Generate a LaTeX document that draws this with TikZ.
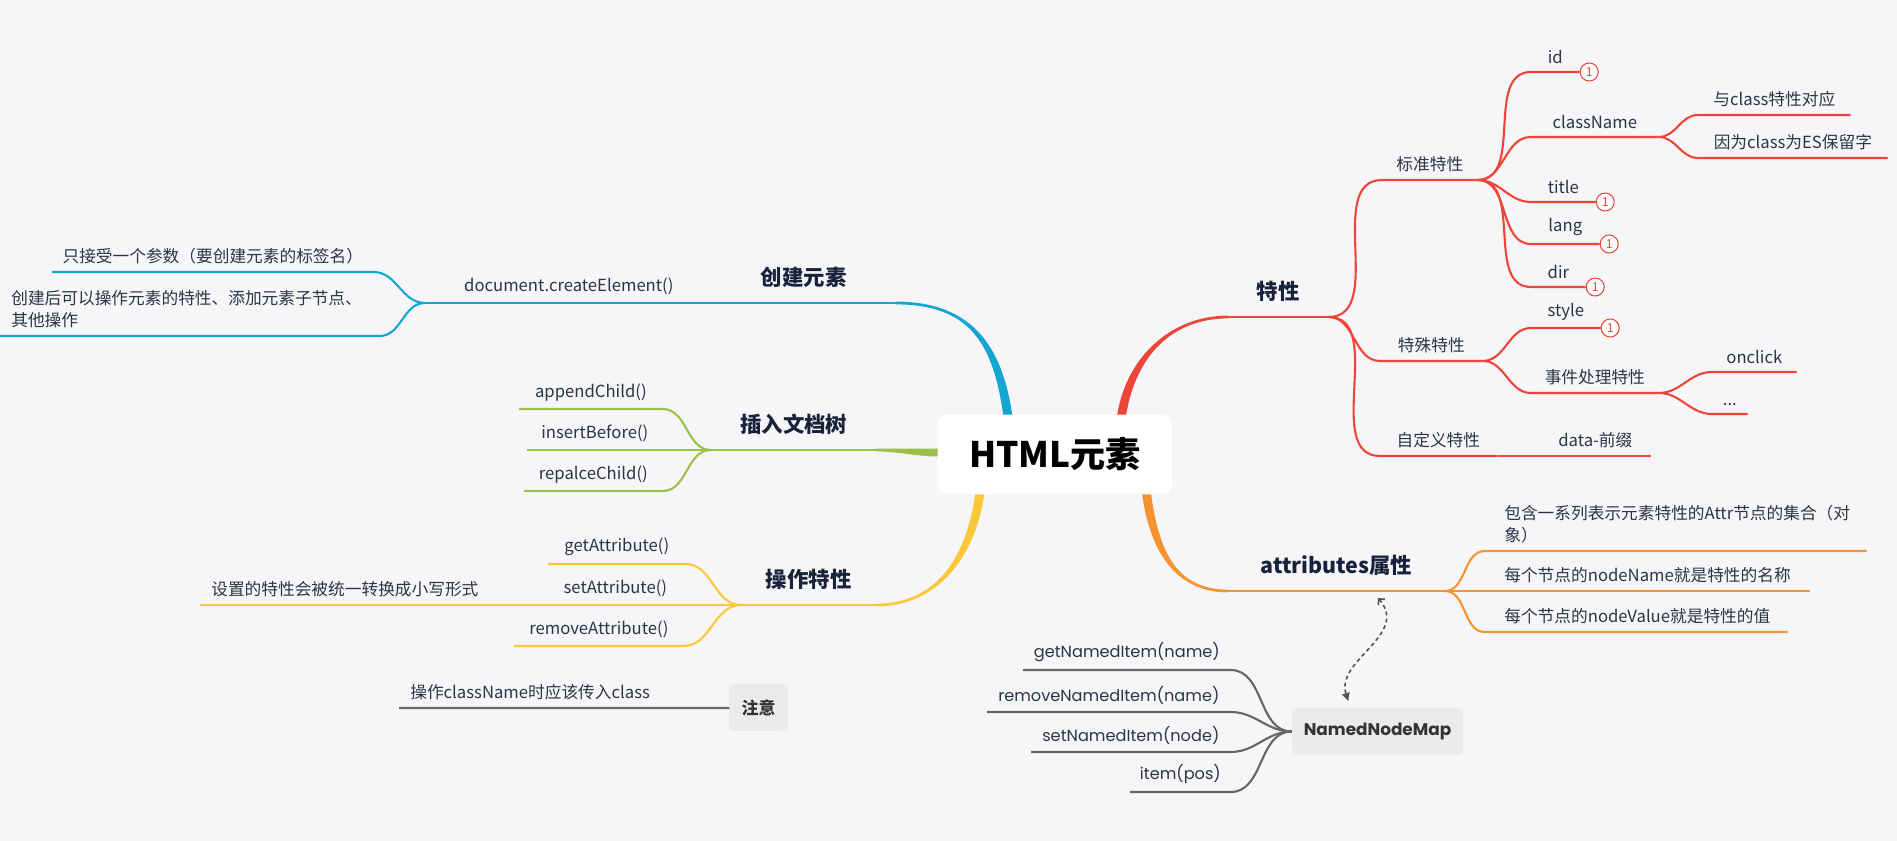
\documentclass[tikz,border=0pt]{standalone}
\usepackage{fontspec}
\setmainfont{Noto Sans CJK SC}
\newfontfamily\popfont{Poppins}
\usetikzlibrary{calc,arrows.meta}

\definecolor{paper}{HTML}{F6F6F8}
\definecolor{ink}{HTML}{2A3546}
\definecolor{head}{HTML}{18223A}
\definecolor{cblue}{HTML}{14A6D0}
\definecolor{cgreen}{HTML}{9CC14A}
\definecolor{cyellow}{HTML}{FBC83B}
\definecolor{cred}{HTML}{EE4539}
\definecolor{corange}{HTML}{F6922F}
\definecolor{cgray}{HTML}{666666}
\definecolor{boxgray}{HTML}{EBEBEB}

% tapered main branch: colour, start, end, start control, end control, start offset, end offset
\newcommand{\trunk}[7]{%
  \fill[#1] ($(#2)+(#6)$) .. controls +(#4) and +(#5) .. ($(#3)+(#7)$)
    -- ($(#3)-(#7)$) .. controls +(#5) and +(#4) .. ($(#2)-(#6)$) -- cycle;}

\begin{document}
\begin{tikzpicture}[x=0.02cm, y=-0.02cm,
  topic/.style={font=\fontsize{9.5}{12.5}\selectfont, text=ink, inner xsep=0pt, inner ysep=0.15cm, anchor=south west},
  wrap/.style={topic, inner xsep=0.22cm, align=left},
  mtopic/.style={topic, font=\popfont\fontsize{9.2}{12}\selectfont},
  headline/.style={font=\fontsize{12.2}{14}\selectfont\bfseries, text=head, inner xsep=0pt, inner ysep=0.3cm, anchor=south west},
  badge/.style={circle, draw=cred, line width=0.6pt, fill=white, inner sep=0pt, minimum size=0.36cm, font=\fontsize{7}{7}\selectfont, text=cred, anchor=west},
  greybox/.style={fill=boxgray, rounded corners=0.12cm, font=\popfont\bfseries\fontsize{9.6}{12}\selectfont, text=black!80, inner sep=0pt, minimum height=0.94cm},
  branch/.style={line width=1.2pt},
  mainline/.style={line width=1.6pt},
  link/.style={cgray!80!black, line width=0.9pt, dash pattern=on 2.2pt off 1.8pt, {Straight Barb[length=2.5pt,width=5pt]}-{Latex[length=5pt,width=5pt]}},
]
\useasboundingbox (0,0) rectangle (1897,841);
\fill[paper] (0,0) rectangle (1897,841);

% centre
\node[fill=white, rounded corners=0.16cm, minimum width=4.68cm, minimum height=1.58cm, font=\fontsize{20}{24}\selectfont\bfseries] (root) at (1055,454.5) {HTML元素};

% first level
\node[headline, minimum width=3.66cm] (create) at (712,303) {创建元素};
\node[headline, minimum width=3.3cm] (insertT) at (711,450) {插入文档树};
\node[headline, minimum width=2.7cm] (opT) at (741,605) {操作特性};
\node[headline, minimum width=2cm] (propT) at (1228,317) {特性};
\node[headline, minimum width=4.32cm] (attrT) at (1228,591) {attributes属性};

\coordinate (blueS) at ($(root.north west)+(70,0)$);
\coordinate (redS) at ($(root.north west)+(184,0)$);
\coordinate (orangeS) at ($(root.south west)+(209,0)$);
\coordinate (yellowS) at ($(root.south west)+(42,0)$);
\coordinate (greenS) at ($(root.west)+(0,-2)$);
\trunk{cblue}{blueS}{create.south east}{-10,-70}{75,0}{-4.5,0}{0,1.4}
\trunk{cred}{redS}{propT.south west}{10,-60}{-55,0}{-4.5,0}{0,-1.4}
\trunk{corange}{orangeS}{attrT.south west}{8,60}{-50,0}{4.5,0}{0,-1.4}
\trunk{cyellow}{yellowS}{opT.south east}{-10,70}{55,0}{4.5,0}{0,1.4}
\trunk{cgreen}{greenS}{insertT.south east}{-20,0}{20,0}{0,4}{0,1.4}

% create
\node[topic, minimum width=5.74cm] (createEl) at (425,303) {document.createElement()};
\node[topic, minimum width=6.42cm] (onlyOne) at (52,272) {只接受一个参数（要创建元素的标签名）};
\node[wrap, text width=7.14cm] (afterCreate) at (0,336) {创建后可以操作元素的特性、添加元素子节点、\\其他操作};
\draw[cblue, mainline] (create.south west) -- (create.south east);
\draw[cblue, branch] (createEl.south west) -- (createEl.south east);
\foreach \n in {onlyOne,afterCreate}
  \draw[cblue, branch] (createEl.south west) to[out=180,in=0] (\n.south east) -- (\n.south west);

% insert
\node[topic, minimum width=2.86cm] (append) at (519,409) {appendChild()};
\node[topic, minimum width=2.7cm] (insertB) at (527,450) {insertBefore()};
\node[topic, minimum width=2.76cm] (replace) at (524,491) {repalceChild()};
\draw[cgreen, mainline] (insertT.south west) -- (insertT.south east);
\foreach \n in {append,insertB,replace}
  \draw[cgreen, branch] (\n.south west) -- (\n.south east) to[out=0,in=180] (insertT.south west);

% operate
\node[topic, minimum width=2.74cm] (getA) at (548,564) {getAttribute()};
\node[topic, minimum width=2.8cm] (setA) at (545,605) {setAttribute()};
\node[wrap, text width=6.46cm] (toLower) at (200,605) {设置的特性会被统一转换成小写形式};
\node[topic, minimum width=3.38cm] (removeA) at (514,646) {removeAttribute()};
\draw[cyellow, mainline] (opT.south west) -- (opT.south east);
\foreach \n in {getA,setA,removeA}
  \draw[cyellow, branch] (\n.south west) -- (\n.south east) to[out=0,in=180] (opT.south west);
\draw[cyellow, branch] (toLower.south west) -- (toLower.south east) -- (setA.south west);

% properties
\node[topic, minimum width=1.9cm] (stdT) at (1382,180) {标准特性};
\node[topic, minimum width=2.04cm] (speT) at (1380,361) {特殊特性};
\node[topic, minimum width=2.32cm] (cusT) at (1380,456) {自定义特性};
\node[topic, minimum width=2.2cm] (data) at (1540,456) {data-前缀};
\node[topic, minimum width=0.96cm] (idA) at (1531,72) {id};
\node[topic, minimum width=2.54cm] (classA) at (1531,137) {className};
\node[topic, minimum width=1.28cm] (titleA) at (1531,202) {title};
\node[topic, minimum width=1.36cm] (langA) at (1531,244) {lang};
\node[topic, minimum width=1.08cm] (dirA) at (1531,287) {dir};
\node[topic, minimum width=1.38cm] (styleA) at (1531,328) {style};
\node[topic, minimum width=2.54cm] (event) at (1531,393) {事件处理特性};
\node[topic, minimum width=3.04cm] (sameClass) at (1698,115) {与class特性对应};
\node[topic, minimum width=3.78cm] (reserved) at (1698,158) {因为class为ES保留字};
\node[topic, minimum width=1.68cm] (onclick) at (1712,372) {onclick};
\node[topic, minimum width=0.7cm] (dots) at (1712,414) {...};
\draw[cred, mainline] (propT.south west) -- (propT.south east);
\foreach \n in {stdT,speT,cusT}
  \draw[cred, branch] (propT.south east) to[out=0,in=180] (\n.south west) -- (\n.south east);
\draw[cred, branch] (cusT.south east) -- (data.south west) -- (data.south east);
\foreach \n in {idA,classA,titleA,langA,dirA}
  \draw[cred, branch] (stdT.south east) to[out=0,in=180] (\n.south west) -- (\n.south east);
\foreach \n in {styleA,event}
  \draw[cred, branch] (speT.south east) to[out=0,in=180] (\n.south west) -- (\n.south east);
\foreach \n in {sameClass,reserved}
  \draw[cred, branch] (classA.south east) to[out=0,in=180] (\n.south west) -- (\n.south east);
\foreach \n in {onclick,dots}
  \draw[cred, branch] (event.south east) to[out=0,in=180] (\n.south west) -- (\n.south east);
\foreach \n in {idA,titleA,langA,dirA,styleA}
  \node[badge] (\n-b) at (\n.south east) {1};

% attributes
\node[wrap, text width=6.86cm, inner xsep=0.38cm] (contains) at (1485,551) {包含一系列表示元素特性的Attr节点的集合（对\\象）};
\node[wrap, text width=5.72cm, inner xsep=0.38cm] (nodeName) at (1485,591) {每个节点的nodeName就是特性的名称};
\node[wrap, text width=5.28cm, inner xsep=0.38cm] (nodeValue) at (1485,632) {每个节点的nodeValue就是特性的值};
\draw[corange, mainline] (attrT.south west) -- (attrT.south east);
\foreach \n in {contains,nodeName,nodeValue}
  \draw[corange, branch] (attrT.south east) to[out=0,in=180] (\n.south west) -- (\n.south east);

% NamedNodeMap
\node[greybox, minimum width=3.42cm] (nnm) at (1377.5,731.5) {NamedNodeMap};
\node[mtopic, minimum width=4.14cm] (getN) at (1023,670) {getNamedItem(name)};
\node[mtopic, minimum width=4.86cm] (remN) at (987,712) {removeNamedItem(name)};
\node[mtopic, minimum width=3.98cm] (setN) at (1031,752) {setNamedItem(node)};
\node[mtopic, minimum width=2cm] (itemN) at (1130,792) {item(pos)};
\foreach \n in {getN,remN,setN,itemN}
  \draw[cgray, branch] (\n.south west) -- (\n.south east) to[out=0,in=180] (nnm.west);
\coordinate (linkA) at (1378,598);
\coordinate (linkB) at ($(nnm.north)+(-29,-6)$);
\draw[link] (linkA) .. controls (1410,635) and (1335,660) .. (linkB);

% note
\node[greybox, minimum width=1.18cm, font=\bfseries\fontsize{9.6}{12}\selectfont] (note) at (758.5,707.5) {注意};
\node[wrap, text width=6.14cm] (clsNote) at (399,708) {操作className时应该传入class};
\draw[cgray, branch] (clsNote.south west) -- (clsNote.south east) -- (note.west);
\end{tikzpicture}
\end{document}
